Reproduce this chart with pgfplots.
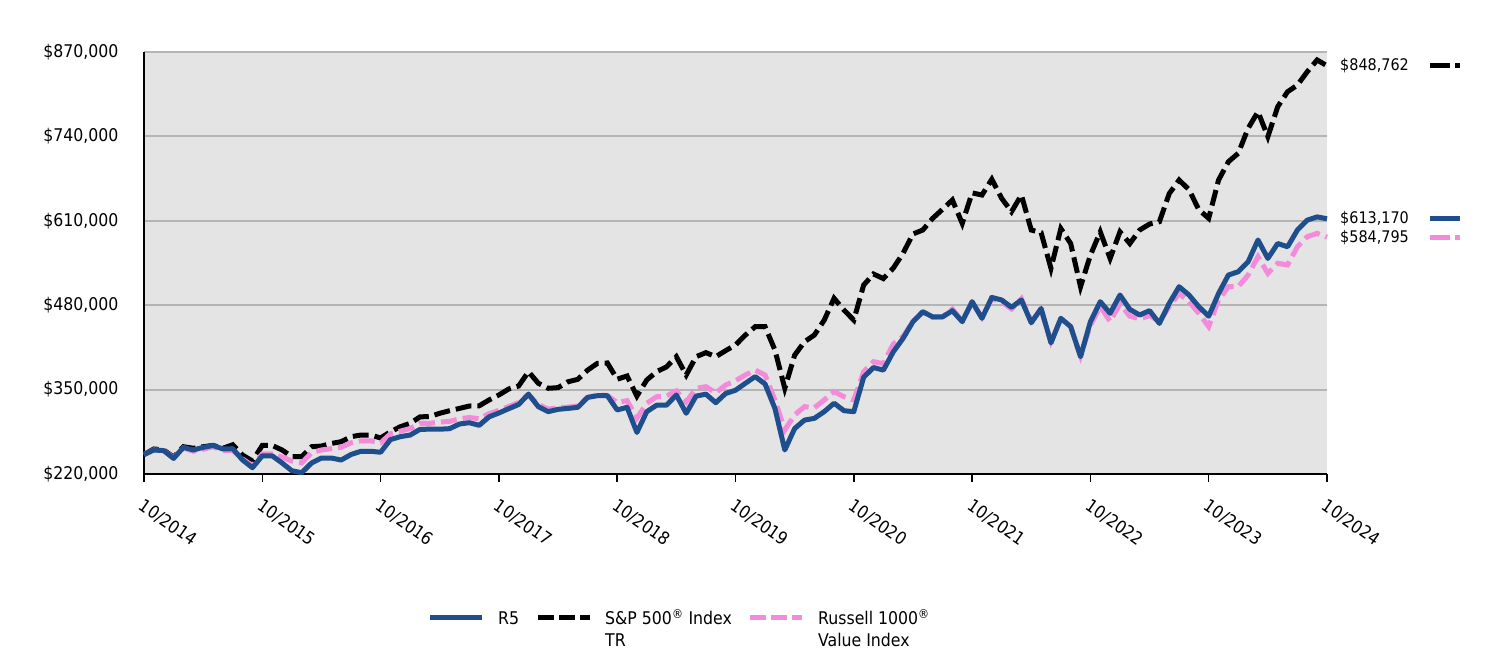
\documentclass[border=0pt]{standalone}
\usepackage{fontspec}
\setmainfont{DejaVu Sans Condensed}
\usepackage{pgfplots}
\pgfplotsset{compat=1.18}
\usepackage{pgfplotstable}
\definecolor{rblue}{RGB}{31,78,141}
\definecolor{rpink}{RGB}{243,139,218}
\definecolor{bgray}{RGB}{228,228,228}
\definecolor{ggray}{RGB}{180,180,180}
\newcommand\fs{\fontsize{17.5}{21}\selectfont}
\newcommand\fsr{\fontsize{16}{19}\selectfont}

\pgfplotstableread{
m r5 sp rv
0 250000 250000 250000
1 257000 258500 257000
2 256000 257000 256000
3 244000 246000 245000
4 261000 262000 260000
5 257000 259600 255000
6 261000 262000 258000
7 264000 264000 262000
8 258500 259600 256000
9 259000 265000 256000
10 241500 249000 243000
11 229700 240000 233000
12 248000 264000 251000
13 248000 264000 251000
14 237000 257000 246000
15 225000 246700 240000
16 222000 246700 237000
17 237000 262000 253000
18 244600 263000 257000
19 244600 267000 259000
20 241500 269800 261000
21 250000 277500 268000
22 255000 280000 271000
23 255000 280000 271000
24 253500 275500 268000
25 273000 285000 282000
26 277500 292800 286000
27 280000 298000 290000
28 288800 308000 298000
29 289000 308500 298000
30 289000 313500 300000
31 289800 317500 301000
32 297000 321000 305000
33 299000 324700 307000
34 295000 325000 305000
35 308000 334000 313000
36 314000 341700 318000
37 320600 351000 324000
38 327000 355500 330000
39 343000 377600 342000
40 323700 359700 327000
41 316000 352000 320000
42 319600 353000 322000
43 321000 362000 323000
44 322700 365800 325000
45 338000 380000 338000
46 340600 390500 342000
47 340600 391000 341000
48 318600 366000 330000
49 322700 371000 333000
50 284000 340000 306000
51 316000 364800 329000
52 326000 377600 339000
53 326000 385000 340000
54 341700 400700 348000
55 313500 372500 331000
56 340000 400700 352000
57 343000 406900 354500
58 329800 400700 345000
59 344000 410000 357000
60 349000 418700 363700
61 359700 434000 372500
62 370000 446900 380000
63 358600 446900 372500
64 321000 411000 334000
65 257000 352000 287800
66 290000 403000 311000
67 303000 423800 323700
68 305700 434000 322000
69 316000 457000 334000
70 329000 490600 346800
71 317500 472600 339000
72 316000 457000 334000
73 369000 511000 377600
74 384000 528000 393000
75 380000 521000 390000
76 408000 537000 420000
77 429000 560000 432000
78 454600 589700 455000
79 470000 595800 469000
80 462000 613800 461000
81 462000 627700 462000
82 471600 642000 474000
83 454600 606000 456000
84 485500 653000 484000
85 459800 649700 461000
86 492000 673900 490000
87 488000 644600 485000
88 476800 624000 474000
89 488000 649700 490000
90 453000 595800 455000
91 475000 591700 472000
92 422000 536800 424000
93 459800 598000 458000
94 447000 575000 447000
95 400700 508500 402000
96 454600 557000 449000
97 485400 593000 478000
98 467500 552000 455000
99 495700 593000 482000
100 473600 575000 463000
101 464900 595800 459000
102 471600 605000 464000
103 452000 608600 454600
104 483000 652000 477700
105 508500 672800 498000
106 495700 658000 485400
107 477700 627000 467500
108 463000 613800 447000
109 498000 672800 488000
110 526500 701000 508500
111 531600 714000 508500
112 547000 752500 526500
113 580400 778000 554700
114 552000 739500 529000
115 575000 785700 544500
116 570000 808800 542000
117 595800 819000 570000
118 611000 839700 585500
119 616000 857700 590700
120 613170 848762 584795
}\datatable

\begin{document}
\begin{tikzpicture}[x=1pt,y=1pt]
\useasboundingbox (0,0) rectangle (1500,660);
\begin{axis}[
  at={(144pt,186pt)}, anchor=south west,
  scale only axis, width=1183pt, height=422pt,
  xmin=0, xmax=120, ymin=220000, ymax=870000,
  axis x line*=bottom, axis y line*=left,
  axis line style={line width=2pt, black, -},
  axis background/.style={fill=bgray},
  ytick={220000,350000,480000,610000,740000,870000},
  yticklabels={{\$220,000},{\$350,000},{\$480,000},{\$610,000},{\$740,000},{\$870,000}},
  xtick={0,12,...,120},
  xticklabels={10/2014,10/2015,10/2016,10/2017,10/2018,10/2019,10/2020,10/2021,10/2022,10/2023,10/2024},
  ymajorgrids, grid style={ggray, line width=2pt},
  ytick style={draw=none},
  xtick style={black, line width=1.5pt},
  major tick length=8pt, tick align=outside,
  tick label style={font=\fs},
  yticklabel style={xshift=-14pt},
  xticklabel style={rotate=-35, anchor=north west, xshift=7pt, yshift=-9pt},
  clip=false,
  scaled y ticks=false,
]
\addplot[black, line width=5pt, dash pattern=on 16pt off 6pt] table[x=m, y=sp] {\datatable};
\addplot[rpink, line width=5pt, dash pattern=on 16pt off 6pt] table[x=m, y=rv] {\datatable};
\addplot[rblue, line width=5pt, line join=round] table[x=m, y=r5] {\datatable};

\node[anchor=west, font=\fsr, inner sep=0, xshift=13pt] at (axis cs:120,848762) {\$848,762};
\node[anchor=west, font=\fsr, inner sep=0, xshift=13pt] at (axis cs:120,613170) {\$613,170};
\node[anchor=west, font=\fsr, inner sep=0, xshift=13pt] at (axis cs:120,584795) {\$584,795};
\draw[black, line width=5pt, dash pattern=on 20pt off 5pt] ([xshift=103pt]axis cs:120,848762) -- ([xshift=133pt]axis cs:120,848762);
\draw[rblue, line width=5pt] ([xshift=103pt]axis cs:120,613170) -- ([xshift=133pt]axis cs:120,613170);
\draw[rpink, line width=5pt, dash pattern=on 20pt off 5pt] ([xshift=103pt]axis cs:120,584795) -- ([xshift=133pt]axis cs:120,584795);
\end{axis}

% legend
\draw[rblue, line width=5pt] (430,42) -- (482,42);
\node[anchor=base west, font=\fs, inner sep=0] at (498,35) {R5};
\draw[black, line width=5pt, dash pattern=on 16pt off 5pt] (538,42) -- (590,42);
\node[anchor=base west, font=\fs, inner sep=0] at (605,35) {S\&P 500\textsuperscript{\textregistered} Index};
\node[anchor=base west, font=\fs, inner sep=0] at (605,13) {TR};
\draw[rpink, line width=5pt, dash pattern=on 16pt off 5pt] (750,42) -- (802,42);
\node[anchor=base west, font=\fs, inner sep=0] at (818,35) {Russell 1000\textsuperscript{\textregistered}};
\node[anchor=base west, font=\fs, inner sep=0] at (818,13) {Value Index};
\end{tikzpicture}
\end{document}
